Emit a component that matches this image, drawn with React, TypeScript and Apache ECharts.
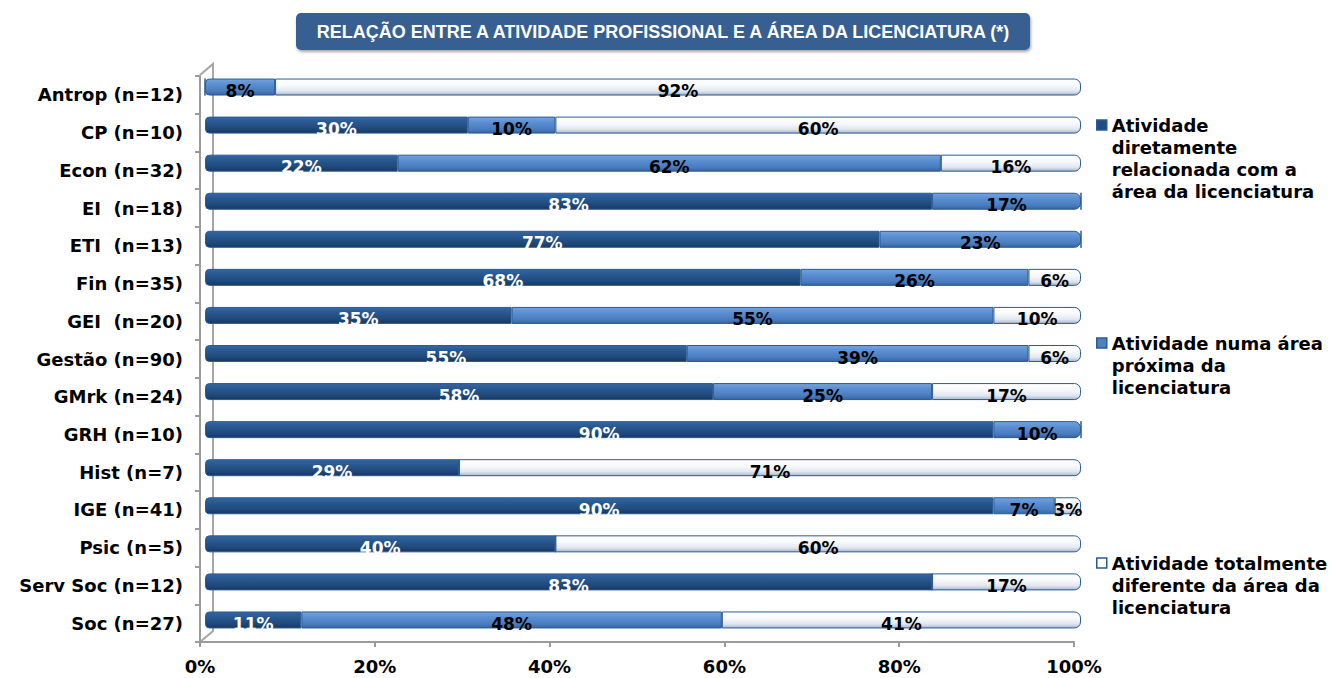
import React, { useEffect, useRef } from "react";
import * as echarts from "echarts";

const categories = [
  "Antrop (n=12)",
  "CP (n=10)",
  "Econ (n=32)",
  "EI  (n=18)",
  "ETI  (n=13)",
  "Fin (n=35)",
  "GEI  (n=20)",
  "Gestão (n=90)",
  "GMrk (n=24)",
  "GRH (n=10)",
  "Hist (n=7)",
  "IGE (n=41)",
  "Psic (n=5)",
  "Serv Soc (n=12)",
  "Soc (n=27)",
];
const directly = [0, 30, 22, 83, 77, 68, 35, 55, 58, 90, 29, 90, 40, 83, 11];
const nearby = [8, 10, 62, 17, 23, 26, 55, 39, 25, 10, 0, 7, 0, 0, 48];
const different = [92, 60, 16, 0, 0, 6, 10, 6, 17, 0, 71, 3, 60, 17, 41];

const seriesNames = [
  "Atividade diretamente relacionada com a área da licenciatura",
  "Atividade numa área próxima da licenciatura",
  "Atividade totalmente diferente da área da licenciatura",
];
const legendLines = [
  ["Atividade", "diretamente", "relacionada com a", "área da licenciatura"],
  ["Atividade numa área", "próxima da", "licenciatura"],
  ["Atividade totalmente", "diferente da área da", "licenciatura"],
];
const titleText = "RELAÇÃO ENTRE A ATIVIDADE PROFISSIONAL E A ÁREA DA LICENCIATURA (*)";
const xMin = 0;
const xMax = 100;
const xInterval = 20;

const FONT = "'DejaVu Sans', Verdana, sans-serif";

export default function App() {
  const ref = useRef<HTMLDivElement>(null);

  useEffect(() => {
    document.body.style.margin = "0";
    if (!ref.current) return;
    const chart = echarts.init(ref.current, undefined, { renderer: "svg" });

    const grad = (stops: [number, string][]) =>
      new echarts.graphic.LinearGradient(
        0,
        0,
        0,
        1,
        stops.map(([offset, color]) => ({ offset, color }))
      );
    const fills = [
      grad([
        [0, "#3566A2"],
        [0.35, "#28578F"],
        [0.75, "#1F4879"],
        [1, "#163760"],
      ]),
      grad([
        [0, "#74A3DE"],
        [0.35, "#5A8ED0"],
        [0.75, "#4A7DBF"],
        [1, "#3563A0"],
      ]),
      grad([
        [0, "#FFFFFF"],
        [0.4, "#F7F9FC"],
        [0.75, "#E1E7F0"],
        [1, "#A8B5C8"],
      ]),
    ];
    const legendFills = ["#1F4E84", "#4F81BD", "#FFFFFF"];
    const all = [directly, nearby, different];

    const buildData = (idx: number) =>
      all[idx].map((v, i) => {
        const row = all.map((s) => s[i]);
        let first = -1;
        let last = -1;
        row.forEach((x, k) => {
          if (x > 0) {
            if (first < 0) first = k;
            last = k;
          }
        });
        const r = [
          idx === first ? 4 : 0,
          idx === last ? 6 : 0,
          idx === last ? 6 : 0,
          idx === first ? 4 : 0,
        ];
        return { value: v, itemStyle: { borderRadius: r } };
      });

    const series = seriesNames.map((name, idx) => ({
      name,
      type: "bar",
      stack: "total",
      xAxisIndex: 0,
      yAxisIndex: 0,
      barWidth: 17,
      data: buildData(idx),
      itemStyle: {
        color: fills[idx],
        borderColor: "#2C5A92",
        borderWidth: 1,
      },
      label: {
        show: true,
        position: "inside",
        offset: [0, 4],
        formatter: (p: any) => (p.value > 0 ? p.value + "%" : ""),
        color: idx === 0 ? "#FFFFFF" : "#000000",
        fontSize: 17,
        fontWeight: "bold",
        fontFamily: FONT,
      },
      emphasis: { disabled: true },
    }));

    const lh = 22;
    const iconTops = [120, 338, 558];
    const legends = seriesNames.map((name, idx) => {
      const n = legendLines[idx].length;
      const totalLines = 2 * n - 1;
      const boxTop = 5 - (totalLines * lh) / 2;
      return {
        show: true,
        left: 1096,
        top: iconTops[idx] + boxTop,
        padding: 0,
        orient: "vertical",
        itemWidth: 10,
        itemHeight: 10,
        icon: "rect",
        selectedMode: false,
        data: [
          {
            name,
            itemStyle: {
              color: legendFills[idx],
              borderColor: "#2C5A92",
              borderWidth: 1.5,
            },
          },
        ],
        formatter: () => " \n".repeat(n - 1) + legendLines[idx].join("\n"),
        textStyle: {
          fontSize: 18,
          fontWeight: "bold",
          fontFamily: FONT,
          color: "#000000",
          lineHeight: lh,
        },
      };
    });

    const option: any = {
      animation: false,
      backgroundColor: "#FFFFFF",
      grid: [
        { left: 205, width: 876, top: 68, height: 571 },
        { left: 200, width: 874, top: 76, height: 566 },
      ],
      xAxis: [
        {
          gridIndex: 0,
          type: "value",
          min: xMin,
          max: xMax,
          show: false,
        },
        {
          gridIndex: 1,
          type: "value",
          min: xMin,
          max: xMax,
          interval: xInterval,
          axisLine: { show: true, lineStyle: { color: "#9B9B9B", width: 2 } },
          axisTick: { show: true, length: 5, lineStyle: { color: "#9B9B9B", width: 2 } },
          splitLine: { show: false },
          axisLabel: {
            formatter: "{value}%",
            fontSize: 18,
            fontWeight: "bold",
            fontFamily: FONT,
            color: "#000000",
            margin: 15,
          },
        },
      ],
      yAxis: [
        {
          gridIndex: 0,
          type: "category",
          inverse: true,
          data: categories,
          show: false,
        },
        {
          gridIndex: 1,
          type: "category",
          inverse: true,
          data: categories,
          axisLine: { show: true, lineStyle: { color: "#9B9B9B", width: 2 } },
          axisTick: { show: true, length: 5, lineStyle: { color: "#9B9B9B", width: 2 } },
          axisLabel: {
            fontSize: 18,
            fontWeight: "bold",
            fontFamily: FONT,
            color: "#000000",
            margin: 17,
          },
        },
      ],
      legend: legends,
      series,
      graphic: [
        {
          type: "polyline",
          silent: true,
          shape: {
            points: [
              [200, 75],
              [213, 64],
              [213, 631],
              [200, 642],
            ],
          },
          style: { stroke: "#A6A6A6", lineWidth: 2, fill: "none" },
          z: -1,
        },
        {
          type: "rect",
          silent: true,
          shape: { x: 296, y: 13, width: 734, height: 37, r: 5 },
          style: {
            fill: "#375F91",
            shadowBlur: 3,
            shadowOffsetX: 1,
            shadowOffsetY: 2,
            shadowColor: "rgba(0,0,0,0.35)",
          },
        },
        {
          type: "text",
          silent: true,
          x: 663,
          y: 32,
          style: {
            text: titleText,
            fill: "#FFFFFF",
            fontSize: 18,
            fontWeight: "bold",
            fontFamily: "'Liberation Sans Narrow', 'Liberation Sans', sans-serif",
            align: "center",
            verticalAlign: "middle",
          },
        },
      ],
    };

    chart.setOption(option);
    return () => chart.dispose();
  }, []);

  return <div ref={ref} style={{ width: 1332, height: 678 }} />;
}
